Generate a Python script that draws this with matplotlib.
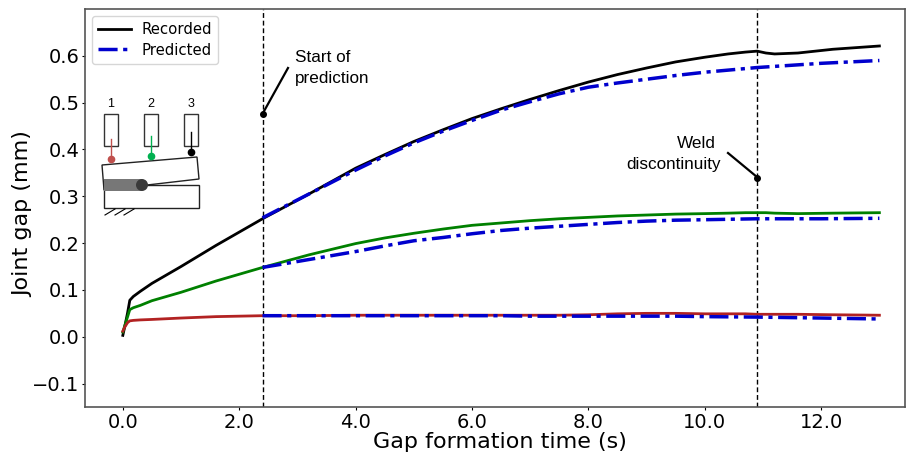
import matplotlib
matplotlib.use("Agg")
import matplotlib.pyplot as plt
from matplotlib.patches import Rectangle, Polygon, Circle

W, H = 906, 458
t_rec = [0.0, 0.03, 0.08, 0.12, 0.18, 0.3, 0.5, 1.0, 1.6, 2.4, 3.2, 4.0, 4.5, 5.0, 5.5, 6.0, 6.5, 7.0, 7.5, 8.0, 8.5, 9.0, 9.5, 10.0, 10.4, 10.7, 10.9, 11.05, 11.2, 11.6, 12.2, 13.0]
black_rec = [0.003, 0.02, 0.05, 0.078, 0.086, 0.097, 0.114, 0.150, 0.195, 0.252, 0.305, 0.360, 0.389, 0.417, 0.442, 0.466, 0.487, 0.507, 0.526, 0.544, 0.560, 0.574, 0.587, 0.597, 0.604, 0.608, 0.610, 0.606, 0.604, 0.606, 0.614, 0.621]
green_rec = [0.010, 0.022, 0.042, 0.058, 0.062, 0.067, 0.077, 0.095, 0.119, 0.148, 0.175, 0.199, 0.211, 0.221, 0.230, 0.238, 0.243, 0.248, 0.252, 0.255, 0.258, 0.260, 0.262, 0.263, 0.264, 0.265, 0.265, 0.265, 0.264, 0.263, 0.264, 0.265]
red_rec = [0.012, 0.020, 0.030, 0.034, 0.035, 0.036, 0.037, 0.040, 0.043, 0.045, 0.045, 0.046, 0.046, 0.046, 0.046, 0.046, 0.046, 0.046, 0.046, 0.047, 0.049, 0.050, 0.050, 0.049, 0.049, 0.049, 0.048, 0.048, 0.048, 0.048, 0.047, 0.046]

t_pred = [2.4, 3.2, 4.0, 4.5, 5.0, 5.5, 6.0, 6.5, 7.0, 7.5, 8.0, 8.5, 9.0, 9.5, 10.0, 10.9, 12.0, 13.0]
black_pred = [0.254, 0.305, 0.356, 0.386, 0.414, 0.439, 0.462, 0.484, 0.502, 0.519, 0.533, 0.542, 0.550, 0.558, 0.565, 0.575, 0.584, 0.590]
green_pred = [0.148, 0.165, 0.182, 0.194, 0.205, 0.212, 0.220, 0.227, 0.232, 0.236, 0.240, 0.244, 0.247, 0.249, 0.250, 0.252, 0.252, 0.253]
red_pred = [0.045, 0.045, 0.045, 0.045, 0.045, 0.045, 0.045, 0.045, 0.044, 0.044, 0.044, 0.044, 0.044, 0.044, 0.043, 0.042, 0.040, 0.038]

start_t, weld_t = 2.4, 10.9
marker_y = [0.476, 0.340]
x_ticks = [0, 2, 4, 6, 8, 10, 12]
y_ticks = [-0.1, 0.0, 0.1, 0.2, 0.3, 0.4, 0.5, 0.6]
legend_labels = ["Recorded", "Predicted"]

fig = plt.figure(figsize=(W/100, H/100), dpi=100)
ax = fig.add_axes([85/W, 1-407/H, 820/W, 398/H])
for y, col in ((black_rec, "black"), (green_rec, "green"), (red_rec, "firebrick")):
    ax.plot(t_rec, y, color=col, lw=2.0, zorder=2,
            label=legend_labels[0] if col == "black" else None)
for i, y in enumerate((black_pred, green_pred, red_pred)):
    ax.plot(t_pred, y, color="mediumblue", lw=2.5, ls=(0, (5.5, 1.6, 1.2, 1.6)), zorder=3,
            label=legend_labels[1] if i == 0 else None)
ax.axvline(start_t, color="black", lw=1.0, ls=(0, (3.5, 2)), zorder=1)
ax.axvline(weld_t, color="black", lw=1.0, ls=(0, (3.5, 2)), zorder=1)
ax.set_xlim(-0.65, 13.44)
ax.set_ylim(-0.15, 0.70)
ax.set_xticks(x_ticks, [f"{v:.1f}" for v in x_ticks])
ax.set_yticks(y_ticks, [f"{v:.1f}".replace("-", "\u2212") for v in y_ticks])
ax.tick_params(labelsize=14, length=2.5, width=0.8, pad=1.5)
ax.set_xlabel("Gap formation time (s)", fontsize=16)
ax.set_ylabel("Joint gap (mm)", fontsize=16)
ax.xaxis.set_label_coords((500-85)/820, (407-432)/398)
ax.yaxis.set_label_coords((33-85)/820, (407-214)/398)
for s in ax.spines.values():
    s.set_color("#555555")
    s.set_linewidth(1.2)
ax.legend(loc="upper left", fontsize=10.7, borderaxespad=0.5, handlelength=2.2,
          labelspacing=0.35, handletextpad=0.7, borderpad=0.4)

# overlay in pixel coordinates for the schematic and callouts
ov = fig.add_axes([0, 0, 1, 1], facecolor="none")
ov.set_xlim(0, W); ov.set_ylim(H, 0); ov.axis("off")
sans = "Liberation Sans"
ax.plot([start_t, weld_t], marker_y, ls="none", marker="o", ms=4, color="black", zorder=5)
ov.plot([263, 288], [113, 68], color="black", lw=1.6)
ov.plot([757, 728], [177, 153], color="black", lw=1.6)
ov.text(295, 58, "Start of", fontsize=12.3, family=sans, va="center")
ov.text(295, 78, "prediction", fontsize=12.3, family=sans, va="center")
ov.text(677, 144, "Weld", fontsize=12.3, family=sans, va="center")
ov.text(626, 164, "discontinuity", fontsize=12.3, family=sans, va="center")
for x0, lab, col, y1, y2, cy in ((104, "1", "#c0504d", 139, 159, 159), (144, "2", "#00b050", 136, 155, 156), (184, "3", "black", 132, 152, 152)):
    ov.add_patch(Rectangle((x0, 114), 13.5, 32, fc="white", ec="#333333", lw=1))
    ov.text(x0+6.8, 104, lab, fontsize=9, family=sans, ha="center", va="center")
    ov.plot([x0+6.8, x0+6.8], [y1, y2], color=col, lw=1)
    ov.plot([x0+6.8], [cy], marker="o", ms=4.5, color=col)
ov.add_patch(Polygon([(102, 165), (197, 157), (199, 179), (104, 190)], closed=True, fc="white", ec="#222222", lw=1))
ov.add_patch(Rectangle((104, 185), 95, 23, fc="white", ec="#222222", lw=1))
ov.add_patch(Rectangle((104, 179), 38, 12, fc="#777777", ec="none"))
ov.add_patch(Circle((142, 185), 6, fc="#3a3a3a", ec="none", zorder=4))
for xs in (105, 115, 124):
    ov.plot([xs, xs+10], [215, 209], color="black", lw=0.8)
fig.savefig("out.png", dpi=100)
